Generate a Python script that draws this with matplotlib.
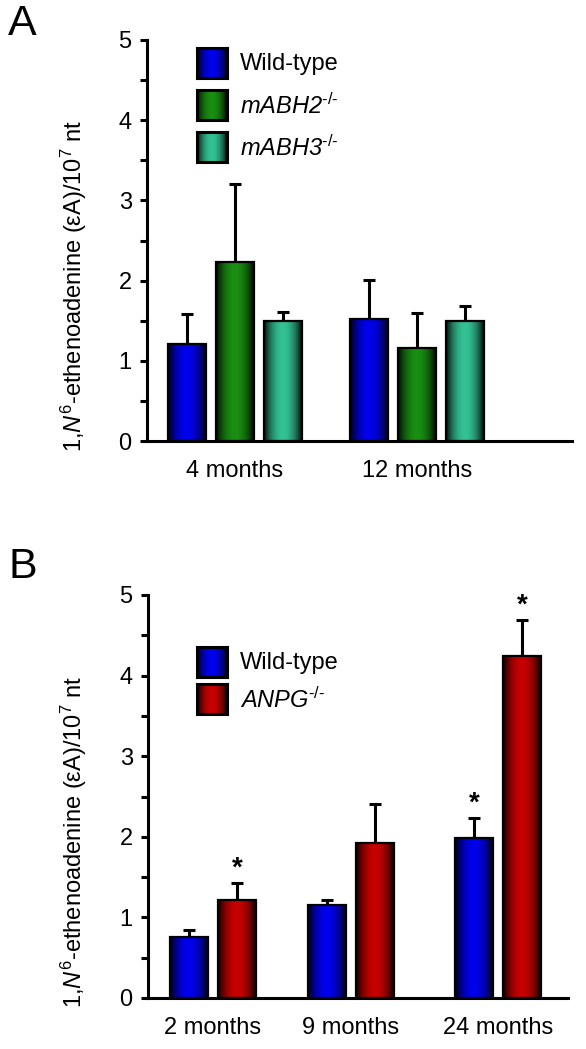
import numpy as np
import matplotlib
matplotlib.use("Agg")
import matplotlib.pyplot as plt

plt.rcParams['font.family'] = ['Liberation Sans', 'DejaVu Sans']
plt.rcParams['mathtext.fontset'] = 'custom'
plt.rcParams['mathtext.rm'] = 'Liberation Sans'
plt.rcParams['mathtext.it'] = 'Liberation Sans:italic'
plt.rcParams['mathtext.bf'] = 'Liberation Sans:bold'

# ---------------- data ----------------
a_groups = ["4 months", "12 months"]
a_series = ["Wild-type", "mABH2", "mABH3"]
a_wt = [1.21, 1.52]
a_wt_err = [0.37, 0.49]
a_abh2 = [2.23, 1.16]
a_abh2_err = [0.97, 0.44]
a_abh3 = [1.50, 1.50]
a_abh3_err = [0.11, 0.18]

b_groups = ["2 months", "9 months", "24 months"]
b_series = ["Wild-type", "ANPG"]
b_wt = [0.76, 1.16, 1.98]
b_wt_err = [0.08, 0.06, 0.25]
b_anpg = [1.21, 1.92, 4.24]
b_anpg_err = [0.22, 0.49, 0.45]
b_wt_sig = [False, False, True]
b_anpg_sig = [True, False, True]

yticks = [0, 1, 2, 3, 4, 5]

# ---------------- style ----------------
W, H = 586, 1049
fig = plt.figure(figsize=(W / 100, H / 100), dpi=100)
colors = {"blue": (0.0, 0.0, 0.93), "green": (0.10, 0.56, 0.07),
          "teal": (0.20, 0.76, 0.58), "red": (0.78, 0.0, 0.0)}
FS = 17
ylabel = r'1,$\it{N}^{6}$-ethenoadenine (εA)/10$^{7}$ nt'


def grad_img(color, n=64):
    t = np.linspace(0, 1, n)
    p = np.sin(np.pi * t) ** 0.75
    img = np.zeros((1, n, 3))
    for k in range(3):
        img[0, :, k] = color[k] * p
    return img


def px_axes(l, r, top, bot):
    return fig.add_axes([l / W, 1 - bot / H, (r - l) / W, (bot - top) / H])


def grad_bars(ax, xs, vals, errs, color, width):
    bars = ax.bar(xs, vals, width=width, facecolor='none', edgecolor='black',
                  linewidth=1.6, zorder=3)
    for b in bars:
        x0, y0 = b.get_x(), b.get_y()
        im = ax.imshow(grad_img(color), extent=[x0, x0 + b.get_width(), y0, y0 + b.get_height()],
                       aspect='auto', zorder=2, interpolation='bilinear')
        im.set_clip_path(b)
    ax.errorbar(xs, vals, yerr=[np.zeros(len(vals)), errs], fmt='none', ecolor='black',
                elinewidth=2.2, capsize=4, capthick=2.2, zorder=1)


def style_axis(ax, xlim, centers, labels, lab_x):
    ax.set_xlim(*xlim)
    ax.set_ylim(0, 5)
    for s in ['top', 'right']:
        ax.spines[s].set_visible(False)
    ax.spines['left'].set_linewidth(2.2)
    ax.spines['bottom'].set_linewidth(2.2)
    ax.set_yticks(yticks)
    ax.set_yticks(np.arange(0.5, 5, 1.0), minor=True)
    ax.tick_params(axis='y', which='both', direction='out', length=5, width=2.2,
                   labelsize=FS, pad=6)
    ax.set_xticks(centers)
    ax.set_xticklabels(labels, fontsize=FS)
    ax.tick_params(axis='x', length=0, pad=14)
    ax.set_ylabel(ylabel, fontsize=17)
    ax.yaxis.set_label_coords(lab_x, 0.387)


def legend_items(names, cols, x, y0, dy, styles):
    for i, (nm, c, st) in enumerate(zip(names, cols, styles)):
        top = y0 + i * dy
        sax = px_axes(x, x + 30, top, top + 30)
        sax.imshow(grad_img(c), aspect='auto', extent=[0, 1, 0, 1], interpolation='bilinear')
        sax.set_xticks([]); sax.set_yticks([])
        for s in sax.spines.values():
            s.set_linewidth(2.2)
        fig.text((x + 43) / W, 1 - (top + 16) / H, nm, fontsize=FS, va='center', ha='left',
                 fontstyle=st)


# ---------------- panel A ----------------
axA = px_axes(147, 572, 40, 441)
a_centers = np.array([87.5, 270.0])
wA = 38
grad_bars(axA, a_centers - 48, a_wt, a_wt_err, colors["blue"], wA)
grad_bars(axA, a_centers, a_abh2, a_abh2_err, colors["green"], wA)
grad_bars(axA, a_centers + 48, a_abh3, a_abh3_err, colors["teal"], wA)
style_axis(axA, (0, 425), a_centers, a_groups, -0.136)
legend_items(["Wild-type", r'mABH2$^{\text{-/-}}$', r'mABH3$^{\text{-/-}}$'],
             [colors["blue"], colors["green"], colors["teal"]], 197, 48, 42,
             ['normal', 'italic', 'italic'])
fig.text(8 / W, 1 - 24 / H, "A", fontsize=31, va='center', ha='left')

# ---------------- panel B ----------------
axB = px_axes(148, 568, 595, 998)
b_centers = np.array([65.0, 203.0, 350.0])
wB = 38
xs_wt = b_centers - 24
xs_an = b_centers + 24
grad_bars(axB, xs_wt, b_wt, b_wt_err, colors["blue"], wB)
grad_bars(axB, xs_an, b_anpg, b_anpg_err, colors["red"], wB)
style_axis(axB, (0, 420), b_centers, b_groups, -0.140)
for xs, v, e, sig in [(xs_wt, b_wt, b_wt_err, b_wt_sig), (xs_an, b_anpg, b_anpg_err, b_anpg_sig)]:
    for xi, vi, ei, si in zip(xs, v, e, sig):
        if si:
            axB.annotate('*', (xi, vi + ei), xytext=(0, 1), textcoords='offset points',
                         ha='center', va='bottom', fontsize=20, fontweight='bold')
legend_items(["Wild-type", r'ANPG$^{\text{-/-}}$'],
             [colors["blue"], colors["red"]], 197, 647, 37, ['normal', 'italic'])
fig.text(8 / W, 1 - 567 / H, "B", fontsize=31, va='center', ha='left')

fig.savefig("out.png", dpi=100)
